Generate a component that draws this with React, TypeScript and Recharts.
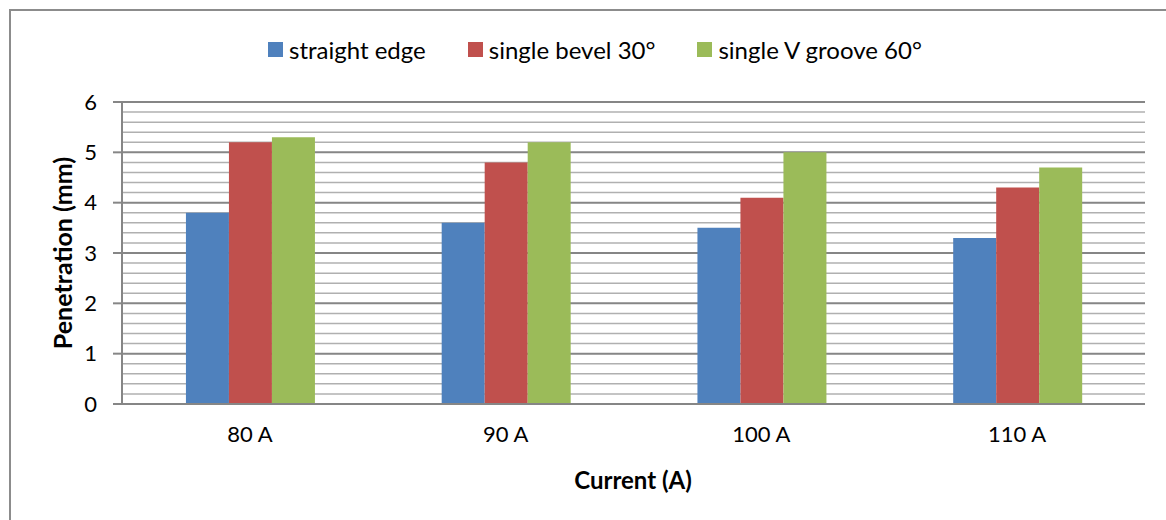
import { BarChart, Bar, XAxis, YAxis, CartesianGrid } from "recharts";

const categories = ["80 A", "90 A", "100 A", "110 A"];
const straightEdge = [3.8, 3.6, 3.5, 3.3];
const singleBevel = [5.2, 4.8, 4.1, 4.3];
const singleVGroove = [5.3, 5.2, 5.0, 4.7];
const yTicks = [0, 1, 2, 3, 4, 5, 6];
const minorTicks = [
  0.2, 0.4, 0.6, 0.8, 1.2, 1.4, 1.6, 1.8, 2.2, 2.4, 2.6, 2.8, 3.2, 3.4, 3.6,
  3.8, 4.2, 4.4, 4.6, 4.8, 5.2, 5.4, 5.6, 5.8,
];

const seriesList = [
  { key: "straight", name: "straight edge", color: "#4F81BD" },
  { key: "bevel", name: "single bevel 30°", color: "#C0504D" },
  { key: "vgroove", name: "single V groove 60°", color: "#9BBB59" },
];

const data = categories.map((c, i) => ({
  name: c,
  straight: straightEdge[i],
  bevel: singleBevel[i],
  vgroove: singleVGroove[i],
}));

const font = "Lato, 'Open Sans', sans-serif";

function LegendRow() {
  return (
    <div
      style={{
        position: "absolute",
        left: 268,
        top: 34,
        height: 30,
        display: "flex",
        alignItems: "center",
        gap: 42,
        fontFamily: font,
        fontSize: 24,
        color: "#000",
        whiteSpace: "nowrap",
      }}
    >
      {seriesList.map((s) => (
        <div key={s.key} style={{ display: "flex", alignItems: "center" }}>
          <span
            style={{
              width: 15,
              height: 15,
              background: s.color,
              display: "inline-block",
              marginRight: 6,
            }}
          />
          {s.name}
        </div>
      ))}
    </div>
  );
}

export default function App() {
  return (
    <div
      style={{
        position: "absolute",
        left: 0,
        top: 0,
        width: 1166,
        height: 520,
        overflow: "hidden",
        background: "#fff",
      }}
    >
      <div
        style={{
          position: "absolute",
          left: 9,
          top: 9,
          width: 1200,
          height: 600,
          borderLeft: "2px solid #8c8c8c",
          borderTop: "2px solid #8c8c8c",
        }}
      />
      <BarChart
        width={1166}
        height={520}
        data={data}
        margin={{ top: 102, right: 21, bottom: 76, left: 62 }}
        barCategoryGap="25%"
        barGap={0}
        style={{ position: "absolute", left: 0, top: 0 }}
      >
        <CartesianGrid
          horizontal
          vertical={false}
          horizontalValues={minorTicks}
          stroke="#b0b0b0"
          strokeWidth={1.5}
        />
        <CartesianGrid
          horizontal
          vertical={false}
          horizontalValues={yTicks}
          stroke="#868686"
          strokeWidth={2}
        />
        <XAxis
          dataKey="name"
          height={40}
          tickLine={false}
          axisLine={{ stroke: "#868686", strokeWidth: 2 }}
          tick={{ fontFamily: font, fontSize: 22, fill: "#000" }}
          tickMargin={16}
        />
        <YAxis
          width={60}
          domain={[0, 6]}
          ticks={yTicks}
          interval={0}
          axisLine={{ stroke: "#868686", strokeWidth: 2 }}
          tickLine={{ stroke: "#868686", strokeWidth: 2 }}
          tickSize={9}
          tickMargin={16}
          tick={{ fontFamily: font, fontSize: 22, fill: "#000" }}
        />
        {seriesList.map((s) => (
          <Bar
            key={s.key}
            dataKey={s.key}
            name={s.name}
            fill={s.color}
            isAnimationActive={false}
          />
        ))}
      </BarChart>
      <LegendRow />
      <div
        style={{
          position: "absolute",
          left: 0,
          width: 1266,
          top: 465,
          textAlign: "center",
          fontFamily: font,
          fontSize: 24,
          fontWeight: "bold",
          lineHeight: "30px",
        }}
      >
        Current (A)
      </div>
      <div
        style={{
          position: "absolute",
          left: 62,
          top: 253,
          transform: "translate(-50%, -50%) rotate(-90deg)",
          fontFamily: font,
          fontSize: 25,
          fontWeight: "bold",
          whiteSpace: "nowrap",
          lineHeight: "30px",
        }}
      >
        Penetration (mm)
      </div>
    </div>
  );
}
